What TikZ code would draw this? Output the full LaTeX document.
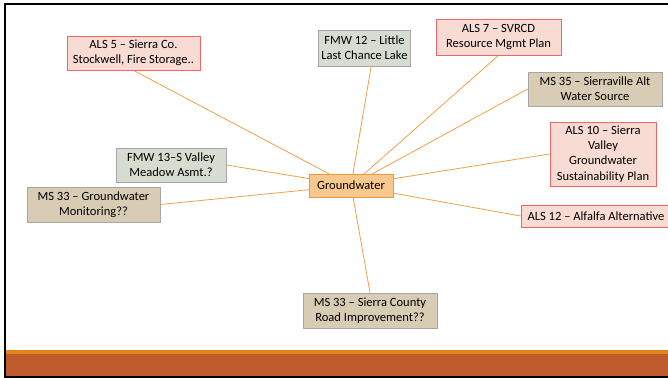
\documentclass[tikz,border=0pt]{standalone}
\usepackage{fontspec}
\setmainfont{Carlito}
\usetikzlibrary{backgrounds}
\definecolor{alsfill}{HTML}{F8DBD3}
\definecolor{alsline}{HTML}{F06565}
\definecolor{fmwfill}{HTML}{D6DCD0}
\definecolor{msfill}{HTML}{D8CCB4}
\definecolor{boxgray}{HTML}{A6A6A6}
\definecolor{hubfill}{HTML}{F9C88F}
\definecolor{hubline}{HTML}{EE9A3C}
\definecolor{linkc}{HTML}{F0A04B}
\definecolor{barO}{HTML}{E08518}
\definecolor{barR}{HTML}{BE5A2C}
\begin{document}
\begin{tikzpicture}[x=0.75pt,y=-0.75pt,font=\fontsize{9.4}{11.4}\selectfont,
  card/.style={align=center,inner sep=2pt,line width=0.6pt},
  als/.style={card,draw=alsline,fill=alsfill},
  fmw/.style={card,draw=boxgray,fill=fmwfill},
  ms/.style={card,draw=boxgray,fill=msfill},
  hub/.style={card,draw=hubline,fill=hubfill},
  link/.style={draw=linkc,line width=0.6pt}]
  \useasboundingbox (0,0) rectangle (668,378);
  % slide frame and footer bars
  \fill[barR] (5,354) rectangle (668,376);
  \fill[barO] (5,350) rectangle (668,354);
  \draw[line width=1.5pt] (5,378) -- (5,4) -- (668,4);
  \draw[line width=1.5pt] (5,377) -- (668,377);
  % topics
  \node[hub,minimum width=84*0.75pt,minimum height=23*0.75pt] (gw) at (351,185.5) {Groundwater};
  \node[als,minimum width=133*0.75pt,minimum height=34*0.75pt] (als5) at (133.5,53) {ALS 5 – Sierra Co.\\Stockwell, Fire Storage..};
  \node[fmw,minimum width=81*0.75pt,minimum height=36*0.75pt] (fmw12) at (364.5,48) {FMW 12 – Little\\Last Chance Lake};
  \node[als,minimum width=125*0.75pt,minimum height=36*0.75pt] (als7) at (498.5,37) {ALS 7 – SVRCD\\Resource Mgmt Plan};
  \node[ms,minimum width=134*0.75pt,minimum height=34*0.75pt] (ms35) at (595,89) {MS 35 – Sierraville Alt\\Water Source};
  \node[als,minimum width=106*0.75pt,minimum height=64*0.75pt] (als10) at (603,154) {ALS 10 – Sierra\\Valley\\Groundwater\\Sustainability Plan};
  \node[fmw,minimum width=110*0.75pt,minimum height=34*0.75pt] (fmw13) at (171,165) {FMW 13–S Valley\\Meadow Asmt.?};
  \node[ms,minimum width=133*0.75pt,minimum height=35*0.75pt] (ms33a) at (93.5,204.5) {MS 33 – Groundwater\\Monitoring??};
  \node[als,minimum width=150*0.75pt,minimum height=22*0.75pt] (als12) at (596,216) {ALS 12 – Alfalfa Alternative};
  \node[ms,minimum width=134*0.75pt,minimum height=35*0.75pt] (ms33b) at (370,310.5) {MS 33 – Sierra County\\Road Improvement??};
  \begin{scope}[on background layer]
    \draw[link] (gw.center) -- (als5.south);
    \draw[link] (gw.center) -- ([xshift=5pt]fmw12.south);
    \draw[link] (gw.center) -- (als7.south);
    \draw[link] (gw.center) -- (ms35.west);
    \draw[link] (gw.center) -- (als10.west);
    \draw[link] (gw.center) -- (als12.west);
    \draw[link] (gw.center) -- (ms33b.north);
    \draw[link] (gw.center) -- (fmw13.east);
    \draw[link] (gw.center) -- (ms33a.east);
  \end{scope}
\end{tikzpicture}
\end{document}
